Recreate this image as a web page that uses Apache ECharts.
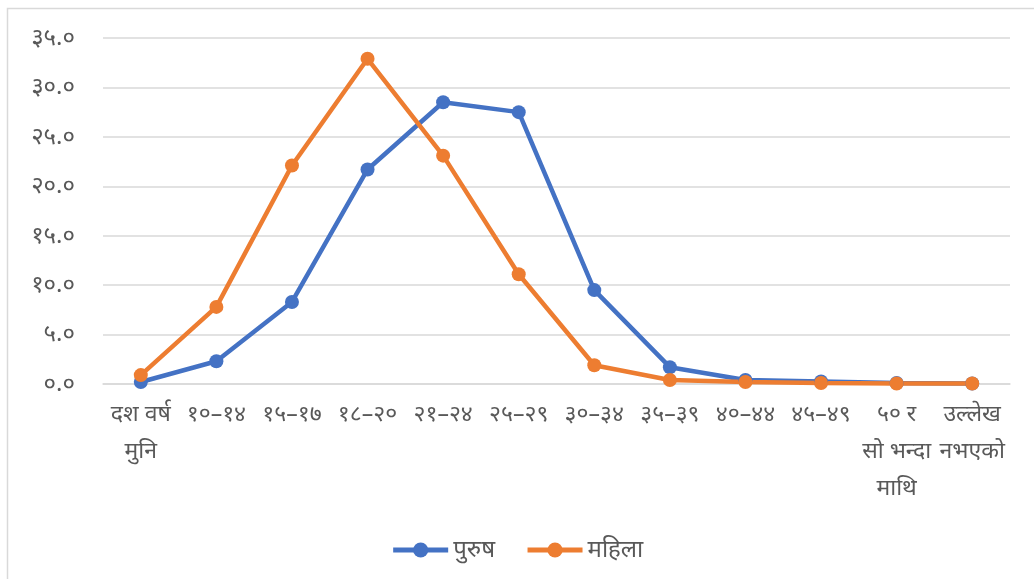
<!DOCTYPE html>
<html>
<head>
<meta charset="utf-8">
<script src="https://cdn.jsdelivr.net/npm/echarts@6/dist/echarts.min.js"></script>
<style>html,body{margin:0;padding:0;background:#fff}#c{width:1034px;height:579px}</style>
</head>
<body>
<div id="c"></div>
<script>
const categories = ["दश वर्ष\nमुनि", "१०–१४", "१५–१७", "१८–२०", "२१–२४", "२५–२९", "३०–३४", "३५–३९", "४०–४४", "४५–४९", "५० र\nसो भन्दा\nमाथि", "उल्लेख\nनभएको"];
const seriesNames = ["पुरुष", "महिला"];
const male = [0.2, 2.3, 8.3, 21.7, 28.5, 27.5, 9.5, 1.7, 0.4, 0.25, 0.1, 0.05];
const female = [0.9, 7.8, 22.1, 32.9, 23.1, 11.1, 1.9, 0.4, 0.2, 0.1, 0.05, 0.05];
const yTicks = [0, 5, 10, 15, 20, 25, 30, 35];

const devDigits = ['०','१','२','३','४','५','६','७','८','९'];
function toDev(s){ return String(s).replace(/[0-9]/g, d => devDigits[+d]); }

const chart = echarts.init(document.getElementById('c'));
const font = "'Noto Sans', 'Noto Sans Devanagari', sans-serif";
chart.setOption({
  backgroundColor: '#fff',
  animation: false,
  graphic: [{
    type: 'rect', shape: {x: 7.5, y: 8.5, width: 1040, height: 590},
    style: {fill: 'none', stroke: '#d9d9d9', lineWidth: 1.5}, silent: true
  }],
  grid: {left: 103, right: 24, top: 38, bottom: 195, containLabel: false},
  legend: {
    bottom: 12, left: 'center',
    itemWidth: 55, itemHeight: 19, itemGap: 30,
    lineStyle: {width: 5},
    textStyle: {fontSize: 24, color: '#595959', fontFamily: font},
    data: seriesNames
  },
  xAxis: {
    type: 'category', data: categories, boundaryGap: true,
    axisLine: {show: true, lineStyle: {color: '#d9d9d9', width: 1.5}},
    axisTick: {show: false},
    axisLabel: {interval: 0, fontSize: 23, color: '#595959', fontFamily: font, lineHeight: 37, margin: 12}
  },
  yAxis: {
    type: 'value', min: 0, max: 35, interval: 5,
    axisLine: {show: false}, axisTick: {show: false},
    splitLine: {lineStyle: {color: '#d9d9d9', width: 1.5}},
    axisLabel: {fontSize: 24, color: '#595959', fontFamily: font, margin: 28,
      formatter: v => toDev(v.toFixed(1))}
  },
  series: [
    {name: seriesNames[0], type: 'line', data: male, color: '#4472c4',
     symbol: 'circle', symbolSize: 14, lineStyle: {width: 4.5, color: '#4472c4'}, itemStyle: {color: '#4472c4'}},
    {name: seriesNames[1], type: 'line', data: female, color: '#ed7d31',
     symbol: 'circle', symbolSize: 14, lineStyle: {width: 4.5, color: '#ed7d31'}, itemStyle: {color: '#ed7d31'}}
  ]
});
</script>
</body>
</html>
